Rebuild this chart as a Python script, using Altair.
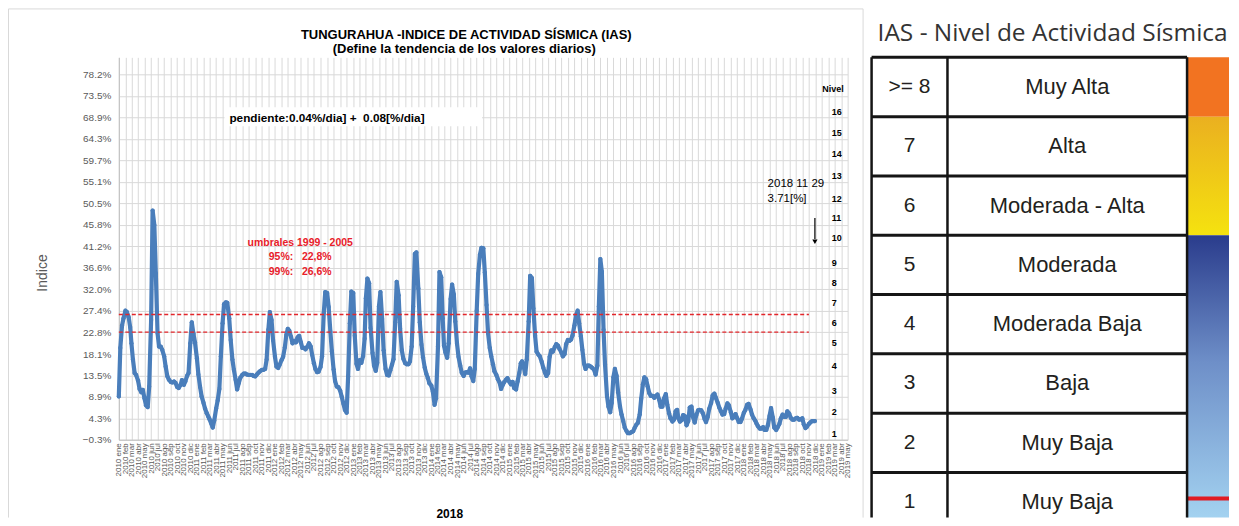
import altair as alt
import pandas as pd

# ---------------- data ----------------
# IAS values sampled on days 1, 8, 16, 23 of every month from 2010-01
ias_2010_2012 = [
    9.0, 19.4, 24.2, 25.8, 27.4, 27.1, 26.0, 23.9, 20.4, 16.9,
    14.0, 13.6, 12.4, 10.6, 9.9, 10.4, 8.6, 7.1, 6.7, 11.1,
    25.4, 48.9, 45.8, 35.4, 22.6, 19.7, 19.7, 19.0, 17.6, 15.4,
    13.3, 12.6, 12.1, 12.0, 12.2, 11.9, 11.0, 10.8, 11.4, 12.5,
    11.5, 12.2, 13.4, 14.0, 20.4, 24.9, 22.4, 20.6, 17.2, 13.7,
    11.0, 9.0, 7.6, 6.4, 5.4, 4.7, 4.1, 3.3, 2.3, 3.8,
    6.4, 8.1, 10.6, 17.6, 24.7, 28.8, 29.2, 29.1, 25.8, 21.1,
    16.9, 14.7, 12.6, 10.5, 11.9, 13.0, 13.6, 13.9, 13.9, 13.7,
    13.6, 13.6, 13.6, 13.4, 13.3, 13.7, 14.1, 14.4, 14.7, 14.7,
    14.9, 16.9, 23.3, 27.1, 25.4, 21.1, 17.5, 15.4, 15.1, 15.8,
    16.8, 17.5, 19.5, 22.2, 23.5, 23.1, 21.8, 20.4, 20.9, 20.6,
    21.7, 22.0, 20.6, 19.4, 19.4, 19.1, 19.7, 20.4, 19.7, 17.9,
    16.1, 14.9, 14.2, 14.3, 15.3, 17.6, 26.9, 31.4, 31.2, 28.2,
    22.9, 18.7, 14.8, 12.3, 11.1, 11.0, 10.2, 8.9, 7.4, 6.1,
    5.5,
]
ias_2012_2015 = [
    13.3, 24.7, 31.5, 31.2, 22.0, 16.0, 14.9, 16.8, 16.2, 17.7,
    21.4, 30.1, 34.3, 33.3, 23.7, 18.3, 15.6, 14.5, 16.2, 28.3,
    31.4, 25.6, 18.9, 14.9, 13.6, 13.5, 14.6, 15.8, 17.0, 24.9,
    33.6, 30.7, 23.5, 18.9, 17.1, 16.1, 15.9, 15.9, 16.5, 19.7,
    28.3, 39.6, 39.9, 32.2, 24.9, 20.1, 17.4, 15.2, 13.9, 12.9,
    11.8, 11.3, 10.0, 7.2, 8.6, 19.7, 35.7, 34.6, 25.8, 19.9,
    18.4, 17.3, 20.4, 29.9, 33.0, 30.9, 25.1, 20.3, 17.5, 15.6,
    14.1, 13.4, 14.1, 14.2, 14.1, 15.0, 13.3, 12.3, 14.9, 27.4,
    35.3, 39.4, 40.9, 40.8, 35.6, 28.6, 22.6, 19.4, 17.6, 15.9,
    14.4, 13.6, 12.7, 12.0, 10.6, 11.5, 12.1, 12.6, 12.9, 12.1,
    11.6, 12.1, 10.8, 10.5, 12.2, 14.0, 16.1, 16.5, 15.5, 13.8,
    16.9, 25.1, 34.9, 34.4, 27.9, 22.0, 18.6, 18.0, 17.6, 16.4,
    15.2, 14.1, 13.4, 14.0, 17.5, 18.9, 18.6, 19.6, 20.2, 19.9,
    19.2, 18.4, 17.6, 18.1, 20.2, 21.1, 20.9, 21.2, 22.1, 24.3,
    26.4, 27.4,
]
ias_2015_2018 = [
    24.7, 21.9, 19.0, 16.0, 14.9, 15.6, 15.6, 15.4, 15.1, 14.7,
    13.7, 15.6, 28.3, 38.5, 35.8, 23.3, 15.8, 9.1, 6.8, 5.6,
    7.6, 13.1, 14.9, 13.4, 9.9, 6.8, 5.1, 3.7, 2.3, 1.6,
    1.1, 1.1, 1.3, 1.5, 2.2, 2.9, 3.3, 5.1, 8.5, 11.6,
    13.1, 12.7, 11.2, 9.7, 9.1, 9.1, 8.7, 9.1, 9.4, 8.3,
    6.8, 6.8, 8.5, 9.5, 7.2, 5.4, 4.3, 3.6, 4.0, 5.8,
    6.1, 4.3, 3.6, 3.9, 5.0, 4.7, 2.8, 3.7, 6.6, 6.8,
    4.6, 3.4, 4.9, 6.0, 6.1, 6.0, 5.4, 4.2, 3.5, 4.6,
    6.3, 7.6, 9.2, 9.6, 8.7, 7.6, 6.6, 5.8, 5.1, 5.2,
    6.4, 7.5, 7.1, 5.6, 4.3, 4.6, 5.2, 4.3, 3.5, 3.5,
    4.2, 5.5, 6.1, 7.2, 7.4, 6.2, 5.1, 4.3, 3.8, 3.2,
    2.6, 2.1, 2.1, 2.4, 1.8, 1.8, 2.8, 4.8, 6.5, 4.5,
    2.3, 1.8, 2.4, 3.1, 4.3, 5.1, 4.6, 4.6, 5.8, 5.3,
    4.4, 4.0, 4.0, 4.3, 4.4, 4.0, 4.1, 4.3, 3.0, 2.2,
    2.5, 3.1, 3.4, 3.7,
]
sample_days = [1, 8, 16, 23]
last_date = "2018-11-29"
last_value = 3.71

y_ticks = [-0.3, 4.3, 8.9, 13.5, 18.1, 22.8, 27.4, 32.0, 36.6, 41.2,
           45.8, 50.5, 55.1, 59.7, 64.3, 68.9, 73.5, 78.2]
meses = ["ene", "feb", "mar", "abr", "may", "jun", "jul", "ago", "sep", "oct", "nov", "dic"]

titulo = "TUNGURAHUA -INDICE DE ACTIVIDAD SÍSMICA (IAS)"
subtitulo = "(Define la tendencia de los valores diarios)"

umbral_values = [22.8, 26.6]
umbral_start = "2010-01-01"
umbral_end = "2018-11-01"
umbral_text = ["umbrales 1999 - 2005", "95%:\u00a0\u00a0 22,8%", "99%:\u00a0\u00a0 26,6%"]
umbral_text_y = [42.0, 38.9, 35.8]
umbral_text_x = "2012-04-28"

pend_text = "pendiente:0.04%/dia] +\u00a0 0.08[%/dia]"
pend_box = {"x0": "2011-05-10", "x1": "2014-08-26", "y0": 67.0, "y1": 71.1}
pend_pos = {"x": "2011-06-02", "y": 68.7}

fecha_text = ["2018 11 29", "3.71[%]"]
fecha_text_y = [54.6, 51.4]
fecha_text_x = "2018-04-22"
arrow = {"x": "2018-11-29", "y0": 47.3, "y1": 42.8, "tip": 42.2}

nivel_labels = [str(i) for i in range(1, 17)]
nivel_y = [1.0, 5.6, 10.2, 15.6, 20.4, 24.7, 29.1, 33.4, 37.6, 43.1,
           47.2, 51.3, 56.3, 61.0, 65.5, 70.1]
nivel_x = "2019-02-16"
nivel_title = {"text": "Nivel", "x": "2019-02-22", "y": 75.0}

# table on the right
tabla_titulo = "IAS - Nivel de Actividad Sísmica"
tabla_num = [">= 8", "7", "6", "5", "4", "3", "2", "1"]
tabla_desc = ["Muy Alta", "Alta", "Moderada - Alta", "Moderada",
              "Moderada Baja", "Baja", "Muy Baja", "Muy Baja"]
col_edges = [0, 76, 316, 358]
red_mark_row = 7.44

# ---------------- chart 1 ----------------
vals = ias_2010_2012 + ias_2012_2015 + ias_2015_2018
fechas = []
for k in range(len(vals)):
    m = k // 4
    fechas.append(f"{2010 + m // 12}-{m % 12 + 1:02d}-{sample_days[k % 4]:02d}")
fechas.append(last_date)
vals = vals + [last_value]
df = pd.DataFrame({"fecha": fechas, "ias": vals})

W1, H1 = 730, 383
FONT = "Liberation Sans"
xs = alt.Scale(domain=[alt.DateTime(year=2010, month=1, date=1),
                       alt.DateTime(year=2019, month=5, date=1)])
ys = alt.Scale(domain=[-0.3, 81.8], nice=False, zero=False)

mes_arr = "[" + ",".join(f"'{m}'" for m in meses) + "]"
x_axis = alt.Axis(
    title="2018", titleFont=FONT, titleFontSize=12, titleFontWeight="bold",
    titleColor="#000000", titleX=331, titleY=74, titleBaseline="middle",
    tickCount={"interval": "month", "step": 1},
    labelExpr="timeFormat(datum.value, '%Y') + ' ' + " + mes_arr + "[month(datum.value)]",
    labelAngle=-90, labelFont=FONT, labelFontSize=8, labelColor="#595959",
    labelOverlap=False, labelPadding=3, labelFlush=False, ticks=False,
    grid=True, gridColor="#D9D9D9", gridWidth=1, domainColor="#BFBFBF",
)
y_axis = alt.Axis(
    values=y_ticks, tickCount=len(y_ticks) + 2,
    labelExpr="format(datum.value, '.1f') + '%'",
    title="Indice", titleFont=FONT, titleFontSize=14, titleFontWeight="normal",
    titleColor="#595959", titleX=-76, titleY=215.5, titleBaseline="middle",
    labelFont=FONT, labelFontSize=10, labelColor="#595959", labelPadding=8,
    labelOverlap=False, labelFlush=False,
    ticks=False, grid=True, gridColor="#D9D9D9", gridWidth=1, domainColor="#BFBFBF",
)

base = alt.Chart(df).encode(
    x=alt.X("fecha:T", scale=xs, axis=x_axis),
    y=alt.Y("ias:Q", scale=ys, axis=y_axis),
)
serie_line = base.mark_line(color="#4A7EBB", strokeWidth=4.2, strokeCap="round", strokeJoin="round")
serie_pts = base.mark_circle(color="#4A7EBB", size=18, opacity=1)

thr_df = pd.DataFrame({"v": umbral_values, "x0": [umbral_start] * 2, "x1": [umbral_end] * 2})
umbrales = alt.Chart(thr_df).mark_rule(color="#E3262B", strokeDash=[4, 2.5], strokeWidth=1.5).encode(
    x=alt.X("x0:T", scale=xs), x2="x1:T", y=alt.Y("v:Q", scale=ys))

ut_df = pd.DataFrame({"t": umbral_text, "y": umbral_text_y, "x": [umbral_text_x] * 3})
umbral_lbl = alt.Chart(ut_df).mark_text(
    font=FONT, fontSize=10.5, fontWeight="bold", color="#E8202A", align="center", baseline="middle"
).encode(x=alt.X("x:T", scale=xs), y=alt.Y("y:Q", scale=ys), text="t:N")

pb_df = pd.DataFrame([pend_box])
pend_rect = alt.Chart(pb_df).mark_rect(fill="white").encode(
    x=alt.X("x0:T", scale=xs), x2="x1:T", y=alt.Y("y0:Q", scale=ys), y2="y1:Q")
pt_df = pd.DataFrame([{"x": pend_pos["x"], "y": pend_pos["y"], "t": pend_text}])
pend_lbl = alt.Chart(pt_df).mark_text(
    font=FONT, fontSize=11.8, fontWeight="bold", color="#000000", align="left", baseline="middle"
).encode(x=alt.X("x:T", scale=xs), y=alt.Y("y:Q", scale=ys), text="t:N")

ft_df = pd.DataFrame({"t": fecha_text, "y": fecha_text_y, "x": [fecha_text_x] * 2})
fecha_lbl = alt.Chart(ft_df).mark_text(
    font=FONT, fontSize=11.5, color="#000000", align="left", baseline="middle"
).encode(x=alt.X("x:T", scale=xs), y=alt.Y("y:Q", scale=ys), text="t:N")

ar_df = pd.DataFrame([arrow])
arrow_line = alt.Chart(ar_df).mark_rule(color="#000000", strokeWidth=1.2).encode(
    x=alt.X("x:T", scale=xs), y=alt.Y("y0:Q", scale=ys), y2="y1:Q")
arrow_head = alt.Chart(ar_df).mark_point(shape="triangle-down", filled=True, color="#000000",
                                         size=28, opacity=1).encode(
    x=alt.X("x:T", scale=xs), y=alt.Y("tip:Q", scale=ys))

nv_df = pd.DataFrame({"t": nivel_labels, "y": nivel_y, "x": [nivel_x] * len(nivel_labels)})
nivel_lbl = alt.Chart(nv_df).mark_text(
    font=FONT, fontSize=9, fontWeight="bold", color="#000000", align="left", baseline="middle"
).encode(x=alt.X("x:T", scale=xs), y=alt.Y("y:Q", scale=ys), text="t:N")
nt_df = pd.DataFrame([nivel_title])
nivel_ttl = alt.Chart(nt_df).mark_text(
    font=FONT, fontSize=9, fontWeight="bold", color="#000000", align="center", baseline="middle"
).encode(x=alt.X("x:T", scale=xs), y=alt.Y("y:Q", scale=ys), text="text:N")

one = pd.DataFrame({"a": [0]})
title_df = pd.DataFrame({"t": [titulo]})
sub_df = pd.DataFrame({"t": [subtitulo]})
title_mark = alt.Chart(title_df).mark_text(
    font=FONT, fontSize=13, fontWeight="bold", color="#000000", align="center", baseline="middle"
).encode(x=alt.value(348), y=alt.value(-22), text="t:N")
sub_mark = alt.Chart(sub_df).mark_text(
    font=FONT, fontSize=13, fontWeight="bold", color="#000000", align="center", baseline="middle"
).encode(x=alt.value(346), y=alt.value(-8), text="t:N")

FRAME_BOTTOM = 461
frame_top = alt.Chart(one).mark_rule(color="#D9D9D9", strokeWidth=1).encode(
    x=alt.value(-110.5), x2=alt.value(745.5), y=alt.value(-48.5))
frame_left = alt.Chart(one).mark_rule(color="#D9D9D9", strokeWidth=1).encode(
    x=alt.value(-110.5), y=alt.value(-48.5), y2=alt.value(FRAME_BOTTOM))
frame_right = alt.Chart(one).mark_rule(color="#D9D9D9", strokeWidth=1).encode(
    x=alt.value(745.5), y=alt.value(-48.5), y2=alt.value(FRAME_BOTTOM))

chart1 = alt.layer(
    serie_line, serie_pts, umbrales, pend_rect, pend_lbl, umbral_lbl, fecha_lbl,
    arrow_line, arrow_head, nivel_lbl, nivel_ttl, title_mark, sub_mark,
    frame_top, frame_left, frame_right,
).properties(width=W1, height=H1)

# ---------------- chart 2 (table) ----------------
W2 = col_edges[-1]
ROW_H = 59.4
H2 = 461
y_max = H2 / ROW_H
tx = alt.Scale(domain=[0, W2], nice=False, zero=False)
ty = alt.Scale(domain=[0, y_max], reverse=True, nice=False, zero=False)

tab_df = pd.DataFrame({
    "num": tabla_num, "desc": tabla_desc,
    "yc": [i + 0.5 for i in range(len(tabla_num))],
    "xn": [(col_edges[0] + col_edges[1]) / 2] * len(tabla_num),
    "xd": [(col_edges[1] + col_edges[2]) / 2] * len(tabla_num),
})
bar_df = pd.DataFrame({
    "x0": [col_edges[2]] * 3, "x1": [col_edges[3]] * 3,
    "y0": [0, 1, 3], "y1": [1, 3, y_max], "seg": ["naranja", "amarillo", "azul"],
})

seg_orange = alt.Chart(bar_df[bar_df.seg == "naranja"]).mark_rect(color="#F27321").encode(
    x=alt.X("x0:Q", scale=tx, axis=None), x2="x1:Q",
    y=alt.Y("y0:Q", scale=ty, axis=None), y2="y1:Q")
seg_yellow = alt.Chart(bar_df[bar_df.seg == "amarillo"]).mark_rect(
    color=alt.LinearGradient(gradient="linear", x1=0, x2=0, y1=0, y2=1,
                             stops=[alt.GradientStop(color="#EAB020", offset=0),
                                    alt.GradientStop(color="#F5E20F", offset=1)])
).encode(x=alt.X("x0:Q", scale=tx, axis=None), x2="x1:Q",
         y=alt.Y("y0:Q", scale=ty, axis=None), y2="y1:Q")
seg_blue = alt.Chart(bar_df[bar_df.seg == "azul"]).mark_rect(
    color=alt.LinearGradient(gradient="linear", x1=0, x2=0, y1=0, y2=1,
                             stops=[alt.GradientStop(color="#2A3C8C", offset=0),
                                    alt.GradientStop(color="#6E8FC8", offset=0.45),
                                    alt.GradientStop(color="#A3D2F0", offset=1)])
).encode(x=alt.X("x0:Q", scale=tx, axis=None), x2="x1:Q",
         y=alt.Y("y0:Q", scale=ty, axis=None), y2="y1:Q")

red_df = pd.DataFrame({"x0": [col_edges[2]], "x1": [col_edges[3]], "y": [red_mark_row]})
red_line = alt.Chart(red_df).mark_rule(color="#E11B22", strokeWidth=4).encode(
    x=alt.X("x0:Q", scale=tx, axis=None), x2="x1:Q", y=alt.Y("y:Q", scale=ty, axis=None))

row_lines = [r for r in range(len(tabla_num) + 1) if r <= y_max]
hl_df = pd.DataFrame({"y": row_lines,
                      "x0": [col_edges[0]] * len(row_lines),
                      "x1": [col_edges[2]] * len(row_lines)})
hlines = alt.Chart(hl_df).mark_rule(color="#151515", strokeWidth=3).encode(
    x=alt.X("x0:Q", scale=tx, axis=None), x2="x1:Q", y=alt.Y("y:Q", scale=ty, axis=None))
vl_df = pd.DataFrame({"x": col_edges[:3], "y0": [0] * 3, "y1": [y_max] * 3})
vlines = alt.Chart(vl_df).mark_rule(color="#151515", strokeWidth=2.5).encode(
    x=alt.X("x:Q", scale=tx, axis=None), y=alt.Y("y0:Q", scale=ty, axis=None), y2="y1:Q")

num_lbl = alt.Chart(tab_df).mark_text(font=FONT, fontSize=21, color="#231F20",
                                      align="center", baseline="middle").encode(
    x=alt.X("xn:Q", scale=tx, axis=None), y=alt.Y("yc:Q", scale=ty, axis=None), text="num:N")
desc_lbl = alt.Chart(tab_df).mark_text(font=FONT, fontSize=22, color="#231F20",
                                       align="center", baseline="middle").encode(
    x=alt.X("xd:Q", scale=tx, axis=None), y=alt.Y("yc:Q", scale=ty, axis=None), text="desc:N")

chart2 = alt.layer(
    seg_orange, seg_yellow, seg_blue, red_line, hlines, vlines, num_lbl, desc_lbl
).properties(
    width=W2, height=H2,
    title=alt.TitleParams(text=tabla_titulo, font="Open Sans",
                          fontSize=24.5, fontWeight="normal", color="#333333",
                          anchor="start", frame="group", dx=6, offset=9),
)

chart = alt.hconcat(chart1, chart2, spacing=24, bounds="flush").properties(
    padding=0
).configure_view(stroke=None)

chart.save("out.html", embed_options={"renderer": "svg", "actions": False})
